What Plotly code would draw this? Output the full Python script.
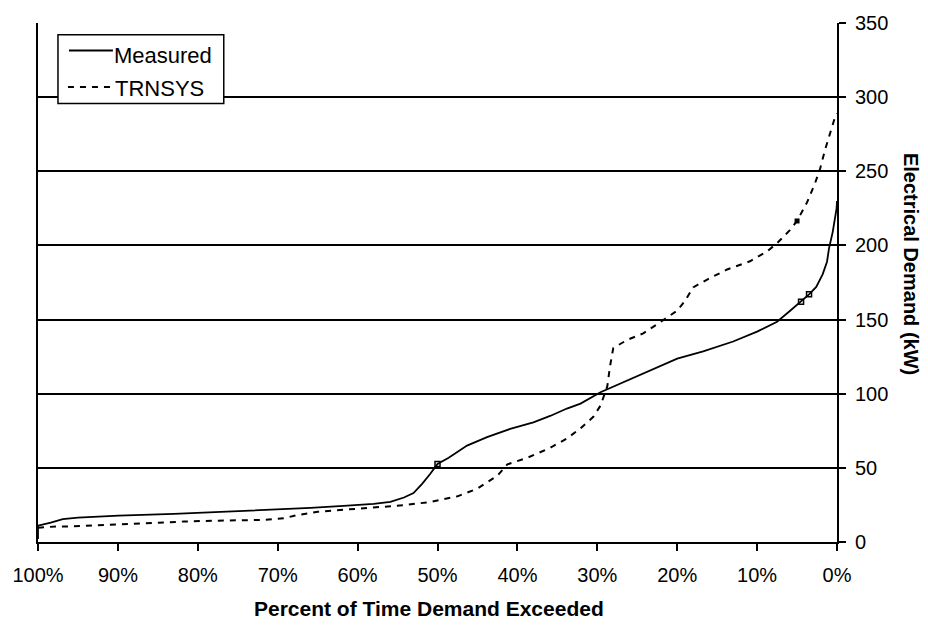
import plotly.graph_objects as go

# Measured load duration curve (percent of time exceeded, kW)
meas_x = [100, 100, 98.4, 96.9, 95, 89.9, 83, 76.3, 70.5, 65.9, 61.75, 58, 55.9, 54.2, 53,
          51.9, 50.9, 50, 48.6, 46.3, 43.8, 40.9, 38, 35.9, 33.8, 32.1, 29.6, 27, 25, 20,
          16.75, 13, 10, 7.5, 5.9, 4.5, 3.5, 2.6, 1.8, 1.25, 1.0, 0.54, 0.25, 0.05, 0]
meas_y = [2, 11, 13, 15.5, 16.4, 17.8, 18.9, 20.4, 21.5, 23, 24.4, 25.7, 27, 30, 33,
          39.4, 46, 52.6, 56.8, 65, 70.7, 76.3, 80.7, 85, 90, 93.3, 101, 107, 112, 123.7,
          128.6, 135.2, 141.9, 148.5, 155.8, 162, 167, 172, 180.5, 189, 198, 209, 218, 225, 230]

# TRNSYS simulated load duration curve
trn_x = [100, 97.75, 95.9, 89.9, 81.75, 77.5, 71.75, 69.25, 67.5, 65, 62.5, 58.4, 54.25,
         50.9, 47.5, 45, 42.5, 41.25, 38.75, 35.9, 33.75, 32.1, 30.5, 29.6, 28.75, 28.4,
         28, 26.25, 24.25, 21.75, 20, 19, 18, 16.25, 13.75, 10.9, 8.75, 7.5, 5.9, 5,
         3.75, 2.75, 2.1, 1.5, 0.9, 0.25, 0]
trn_y = [9.6, 10.5, 10.5, 12, 13.8, 14.4, 14.9, 16, 18.2, 20.4, 21.5, 23, 24.8,
         27, 30.8, 36, 44.7, 52.4, 56.8, 63.5, 70, 76.7, 84.4, 92, 105, 118.7,
         130.8, 136.3, 140.7, 149.6, 156, 162.8, 171.7, 177, 183.8, 189.3, 196, 201.5, 210.3, 216.5,
         229, 242, 252, 264.4, 275.4, 286.4, 289]

# Stray point markers visible on the curves
meas_mk_x = [50, 4.5, 3.5]
meas_mk_y = [52.6, 162, 167]
trn_mk_x = [5]
trn_mk_y = [216.5]

x_ticks = [100, 90, 80, 70, 60, 50, 40, 30, 20, 10, 0]
y_ticks = [0, 50, 100, 150, 200, 250, 300, 350]
series_names = ["Measured", "TRNSYS"]

FONT = "Liberation Sans, Arial, sans-serif"

# plot area in pixels
L, R, T, B = 37, 837, 14, 542
W, H = R - L, B - T


def px(x):
    return (x - L) / W


def py(y):
    return (B - y) / H


TRN_DASH = "6px,6px"

fig = go.Figure()
fig.add_trace(go.Scatter(x=meas_x, y=meas_y, mode="lines", name=series_names[0],
                         showlegend=False, line=dict(color="black", width=1.8)))
fig.add_trace(go.Scatter(x=trn_x, y=trn_y, mode="lines", name=series_names[1],
                         showlegend=False, line=dict(color="black", width=2, dash=TRN_DASH)))
fig.add_trace(go.Scatter(x=meas_mk_x, y=meas_mk_y, mode="markers", showlegend=False,
                         marker=dict(symbol="square-open", size=5, color="black",
                                     line=dict(width=1.5, color="black"))))
fig.add_trace(go.Scatter(x=trn_mk_x, y=trn_mk_y, mode="markers", showlegend=False,
                         marker=dict(symbol="square", size=5, color="black")))

shapes = [
    dict(type="rect", xref="paper", yref="paper", layer="above",
         x0=px(57), x1=px(223), y0=py(96), y1=py(26),
         fillcolor="white", line=dict(color="black", width=1.5)),
    dict(type="line", xref="paper", yref="paper", layer="above",
         x0=px(68), x1=px(112), y0=py(42), y1=py(42),
         line=dict(color="black", width=1.8)),
    dict(type="line", xref="paper", yref="paper", layer="above",
         x0=px(67), x1=px(112), y0=py(79), y1=py(79),
         line=dict(color="black", width=2, dash=TRN_DASH)),
]

fig.update_layout(
    width=928, height=625,
    margin=dict(l=L, r=928 - R, t=T, b=625 - B),
    paper_bgcolor="white", plot_bgcolor="white",
    font=dict(family=FONT, size=20, color="black"),
    showlegend=False,
    shapes=shapes,
    xaxis=dict(range=[100, 0], tickvals=x_ticks,
               ticktext=[f"{v}%" for v in x_ticks],
               showgrid=False, zeroline=False,
               showline=True, linecolor="black", linewidth=2, mirror=False,
               ticks="outside", ticklen=7, tickwidth=2, tickcolor="black",
               ticklabelstandoff=7, tickfont=dict(size=20)),
    yaxis=dict(range=[0, 350], tickvals=y_ticks, side="right",
               showgrid=True, gridcolor="black", gridwidth=2, zeroline=False,
               showline=True, linecolor="black", linewidth=2, mirror=True,
               ticks="outside", ticklen=7, tickwidth=2, tickcolor="black",
               ticklabelstandoff=5, tickfont=dict(size=20)),
    annotations=[
        dict(text="<b>Percent of Time Demand Exceeded</b>", xref="paper", yref="paper",
             x=px(428), y=py(610), xanchor="center", yanchor="middle",
             showarrow=False, font=dict(size=21)),
        dict(text="<b>Electrical Demand (kW)</b>", xref="paper", yref="paper",
             x=px(911), y=py(259), xanchor="center", yanchor="middle",
             textangle=90, showarrow=False, font=dict(size=20)),
        dict(text=series_names[0], xref="paper", yref="paper",
             x=px(111), y=py(47), xanchor="left", yanchor="middle",
             showarrow=False, font=dict(size=22)),
        dict(text=series_names[1], xref="paper", yref="paper",
             x=px(112), y=py(81), xanchor="left", yanchor="middle",
             showarrow=False, font=dict(size=22)),
    ],
)

fig.write_html("out.html")
